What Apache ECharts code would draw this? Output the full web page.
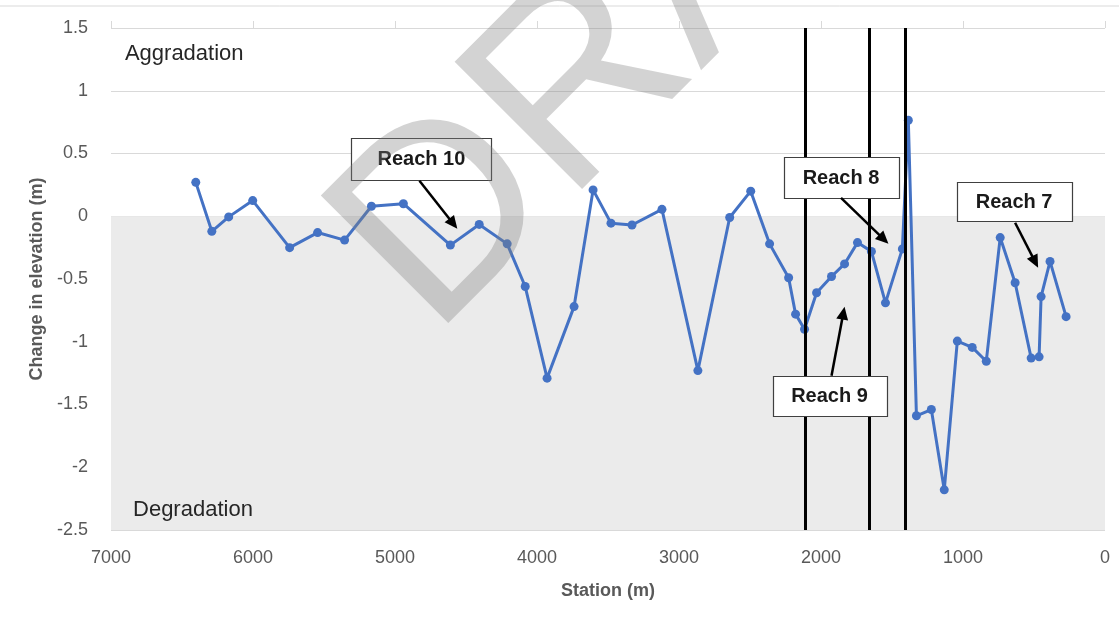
<!DOCTYPE html>
<html>
<head>
<meta charset="utf-8">
<script src="https://cdn.jsdelivr.net/npm/echarts@6/dist/echarts.min.js"></script>
<style>
  html, body { margin: 0; padding: 0; background: #ffffff; }
  #chart { width: 1119px; height: 621px; }
</style>
</head>
<body>
<div id="chart"></div>
<script>
// Station along the channel (m), upstream to downstream
const stations = [
  6403, 6290, 6171, 6002, 5742, 5545, 5355, 5166, 4941, 4610,
  4407, 4210, 4083, 3929, 3739, 3605, 3479, 3331, 3120, 2867,
  2643, 2495, 2362, 2228, 2179, 2116, 2031, 1926, 1834, 1743,
  1645, 1546, 1427, 1385, 1328, 1223, 1132, 1040, 935, 836,
  738, 633, 520, 464, 450, 387, 274
];

// Change in bed elevation at each station (m)
const elevationChange = [
  0.27, -0.12, -0.005, 0.125, -0.25, -0.13, -0.19, 0.08, 0.10, -0.23,
  -0.065, -0.22, -0.56, -1.29, -0.72, 0.21, -0.055, -0.07, 0.055, -1.23,
  -0.01, 0.20, -0.22, -0.49, -0.78, -0.90, -0.61, -0.48, -0.38, -0.21,
  -0.28, -0.69, -0.26, 0.765, -1.59, -1.54, -2.18, -0.995, -1.045, -1.155,
  -0.17, -0.53, -1.13, -1.12, -0.64, -0.36, -0.80
];

// Stations where one reach ends and the next begins (m)
const reachBoundaries = [2110, 1660, 1405];

// Reach callouts: label, box centre and arrow ends in data units
const reachLabels = ['Reach 10', 'Reach 8', 'Reach 7', 'Reach 9'];
const reachBoxCentres = [[4814, 0.458], [1859, 0.307], [640, 0.116], [1940, -1.43]];
const reachArrowTails = [[4828, 0.283], [1859, 0.147], [633, -0.052], [1926, -1.271]];
const reachArrowTips = [[4561, -0.10], [1525, -0.219], [471, -0.41], [1834, -0.721]];
const reachBoxSizes = [[140, 42], [115, 41], [115, 39], [114, 40]];

const FONT = '"Liberation Sans", Arial, sans-serif';
const points = stations.map((s, i) => [s, elevationChange[i]]);

const chart = echarts.init(document.getElementById('chart'), null, { renderer: 'canvas' });

chart.setOption({
  animation: false,
  backgroundColor: '#ffffff',
  textStyle: { fontFamily: FONT },
  grid: { left: 111, right: 14, top: 28, bottom: 91, containLabel: false },
  xAxis: [
    {
      type: 'value', min: 0, max: 7000, interval: 1000, inverse: true, position: 'bottom',
      z: 1,
      axisLine: { show: false },
      axisTick: { show: false },
      splitLine: { show: false },
      axisLabel: { color: '#595959', fontSize: 18, margin: 19, fontFamily: FONT,
                   formatter: v => String(v) },
      name: 'Station (m)', nameLocation: 'middle', nameGap: 52,
      nameTextStyle: { color: '#595959', fontSize: 18, fontWeight: 'bold', fontFamily: FONT }
    },
    {
      type: 'value', min: 0, max: 7000, interval: 1000, inverse: true, position: 'top',
      z: 1,
      axisLine: { show: false },
      axisTick: { show: true, length: 7, lineStyle: { color: '#d9d9d9', width: 1 } },
      axisLabel: { show: false },
      splitLine: { show: false }
    }
  ],
  yAxis: {
    type: 'value', min: -2.5, max: 1.5, interval: 0.5,
    z: 1,
    axisLine: { show: false },
    axisTick: { show: false },
    splitLine: { show: true, lineStyle: { color: '#d9d9d9', width: 1 } },
    axisLabel: { color: '#595959', fontSize: 18, margin: 23, fontFamily: FONT },
    name: 'Change in elevation (m)', nameLocation: 'middle', nameGap: 60,
    nameTextStyle: { color: '#595959', fontSize: 18, fontWeight: 'bold', fontFamily: FONT }
  },
  series: [
    {
      // shaded band below zero (degradation zone)
      type: 'line', data: [], z: 0, silent: true,
      markArea: {
        silent: true,
        itemStyle: { color: '#ebebeb' },
        data: [[{ yAxis: -2.5 }, { yAxis: 0 }]]
      }
    },
    {
      // reach boundaries
      type: 'line', data: [], z: 2, silent: true,
      markLine: {
        silent: true, symbol: 'none', animation: false,
        label: { show: false },
        lineStyle: { color: '#000000', width: 3, type: 'solid' },
        data: reachBoundaries.map(s => ({ xAxis: s }))
      }
    },
    {
      name: 'Change in elevation',
      type: 'line', z: 3,
      data: points,
      showAllSymbol: true,
      symbol: 'circle', symbolSize: 9,
      lineStyle: { color: '#4472c4', width: 3 },
      itemStyle: { color: '#4472c4' }
    }
  ]
});

function px(pt) {
  return chart.convertToPixel({ xAxisIndex: 0, yAxisIndex: 0 }, pt);
}

const graphics = [];

// thin frame line across the top
graphics.push({
  type: 'line', silent: true, z: 5,
  shape: { x1: 0, y1: 6, x2: 1119, y2: 6 },
  style: { stroke: '#d9d9d9', lineWidth: 1 }
});

// zone labels
const agg = px([6902, 1.296]);
const deg = px([6845, -2.34]);
graphics.push({
  type: 'text', x: agg[0], y: agg[1], z: 10,
  style: { text: 'Aggradation', font: '22px ' + FONT, fill: '#262626',
           textAlign: 'left', textVerticalAlign: 'middle', align: 'left', verticalAlign: 'middle' }
});
graphics.push({
  type: 'text', x: deg[0], y: deg[1], z: 10,
  style: { text: 'Degradation', font: '22px ' + FONT, fill: '#262626',
           textAlign: 'left', textVerticalAlign: 'middle', align: 'left', verticalAlign: 'middle' }
});

// reach callouts with arrows
reachLabels.forEach((label, i) => {
  const c = px(reachBoxCentres[i]);
  const w = reachBoxSizes[i][0], h = reachBoxSizes[i][1];
  graphics.push({
    type: 'rect', z: 10,
    shape: { x: Math.round(c[0] - w / 2) + 0.5, y: Math.round(c[1] - h / 2) + 0.5, width: w, height: h },
    style: { fill: '#ffffff', stroke: '#404040', lineWidth: 1.2 }
  });
  graphics.push({
    type: 'text', x: c[0], y: c[1] + 1, z: 11,
    style: { text: label, font: 'bold 20px ' + FONT, fill: '#1a1a1a',
             textAlign: 'center', textVerticalAlign: 'middle', align: 'center', verticalAlign: 'middle' }
  });
  const a = px(reachArrowTails[i]);
  const b = px(reachArrowTips[i]);
  const dx = b[0] - a[0], dy = b[1] - a[1];
  const len = Math.sqrt(dx * dx + dy * dy);
  const ux = dx / len, uy = dy / len;
  const headLen = 13, headHalf = 6;
  const bx = b[0] - ux * headLen, by = b[1] - uy * headLen;
  graphics.push({
    type: 'line', z: 10,
    shape: { x1: a[0], y1: a[1], x2: bx + ux * 2, y2: by + uy * 2 },
    style: { stroke: '#000000', lineWidth: 2.5 }
  });
  graphics.push({
    type: 'polygon', z: 10,
    shape: { points: [[b[0], b[1]], [bx - uy * headHalf, by + ux * headHalf], [bx + uy * headHalf, by - ux * headHalf]] },
    style: { fill: '#000000' }
  });
});

// draft watermark across the chart
graphics.push({
  type: 'text', x: 382, y: 287, rotation: Math.PI / 4, z: 50, silent: true,
  style: { text: 'DRAFT', font: '262px ' + FONT, fill: 'rgba(128,128,128,0.35)',
           textAlign: 'left', textVerticalAlign: 'middle', align: 'left', verticalAlign: 'middle' }
});

chart.setOption({ graphic: { elements: graphics } });
</script>
</body>
</html>
